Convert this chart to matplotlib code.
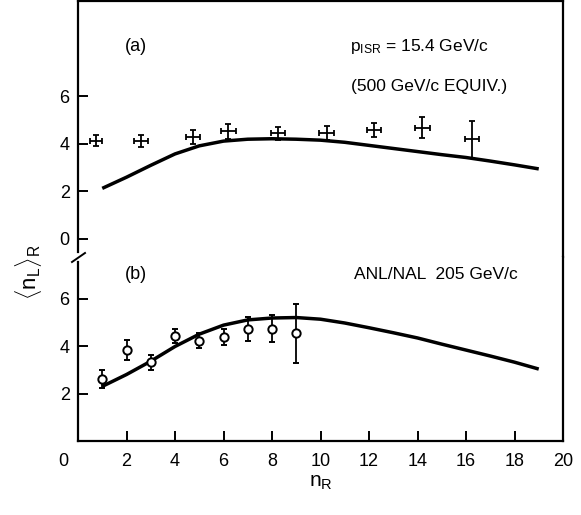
import numpy as np
import matplotlib.pyplot as plt
from matplotlib.lines import Line2D
import matplotlib.transforms as mtransforms

plt.rcParams['font.family'] = ['Liberation Sans', 'DejaVu Sans']
plt.rcParams['mathtext.fontset'] = 'custom'
plt.rcParams['mathtext.rm'] = 'Liberation Sans'

# --- data ---

# (a) ISR, 15.4 GeV/c
isr_n = [0.75, 2.6, 4.75, 6.2, 8.25, 10.25, 12.2, 14.2, 16.25]
isr_nl = [4.14, 4.13, 4.28, 4.53, 4.45, 4.45, 4.59, 4.69, 4.2]
isr_yerr = [0.24, 0.26, 0.3, 0.32, 0.27, 0.3, 0.3, 0.44, 0.78]
isr_xerr = [0.25, 0.3, 0.3, 0.3, 0.3, 0.3, 0.3, 0.3, 0.3]

# (b) ANL/NAL 205 GeV/c
nal_n = [1, 2, 3, 4, 5, 6, 7, 8, 9]
nal_nl = [2.62, 3.83, 3.31, 4.43, 4.22, 4.38, 4.72, 4.73, 4.53]
nal_yerr = [0.37, 0.42, 0.3, 0.3, 0.31, 0.33, 0.5, 0.58, 1.25]

# model curves
curve_n = [1, 2, 3, 4, 5, 6, 7, 8, 9, 10, 11, 12, 13, 14, 15, 16, 17, 18, 19]
curve_a = [2.13, 2.6, 3.1, 3.58, 3.92, 4.12, 4.2, 4.22, 4.2, 4.16, 4.07, 3.94,
           3.81, 3.68, 3.55, 3.43, 3.28, 3.12, 2.95]
curve_b = [2.3, 2.8, 3.36, 3.98, 4.5, 4.88, 5.1, 5.18, 5.2, 5.13, 4.97, 4.77,
           4.56, 4.34, 4.08, 3.83, 3.58, 3.32, 3.03]

x_ticks = [0, 2, 4, 6, 8, 10, 12, 14, 16, 18, 20]

# --- layout (pixel fractions of 581x515) ---
W, H = 581, 515
left, right = 78 / W, 563 / W
y_bot, y_mid, y_top = (H - 441) / H, (H - 257) / H, (H - 1) / H

fig = plt.figure(figsize=(W / 100, H / 100), dpi=100)
ax_a = fig.add_axes([left, y_mid, right - left, y_top - y_mid])
ax_b = fig.add_axes([left, y_bot, right - left, y_mid - y_bot])

lw_spine = 1.6
for ax in (ax_a, ax_b):
    ax.set_xlim(0, 20)
    for s in ax.spines.values():
        s.set_linewidth(lw_spine)
    ax.tick_params(direction='in', length=7, width=1.4, labelsize=13,
                   top=False, right=False)
    ax.tick_params(axis='y', pad=6)

ax_a.set_ylim(-0.76, 10.02)
ax_b.set_ylim(0, 7.75)
ax_a.spines['bottom'].set_visible(False)
ax_b.spines['top'].set_visible(False)
ax_a.spines['left'].set_bounds(-0.55, 10.02)
ax_b.spines['left'].set_bounds(0, 7.55)

ax_a.set_xticks([])
ax_a.set_yticks([0, 2, 4, 6])
ax_b.set_yticks([2, 4, 6])
ax_b.set_xticks(x_ticks)
ax_b.set_xticklabels([str(t) for t in x_ticks])
ax_b.tick_params(axis='x', pad=9)
# the "0" label sits left of the axis corner
offset = mtransforms.ScaledTranslation(-0.15, 0, fig.dpi_scale_trans)
lbl0 = ax_b.get_xticklabels()[0]
lbl0.set_transform(lbl0.get_transform() + offset)

# (a)
ax_a.plot(curve_n, curve_a, color='black', lw=2.5, solid_capstyle='butt',
          solid_joinstyle='round')
ax_a.errorbar(isr_n, isr_nl, yerr=isr_yerr, xerr=isr_xerr, fmt='none',
              ecolor='black', elinewidth=1.3, capsize=2.5, capthick=1.3)
ax_a.text(2.4, 8.1, '(a)', fontsize=13, ha='center', va='center')
ax_a.text(11.2, 8.1, r'$\mathregular{p_{ISR}}$ = 15.4 GeV/c', fontsize=12.5,
          ha='left', va='center')
ax_a.text(11.25, 6.4, '(500 GeV/c EQUIV.)', fontsize=12.5,
          ha='left', va='center')

# (b)
ax_b.plot(curve_n, curve_b, color='black', lw=2.5, solid_capstyle='butt',
          solid_joinstyle='round')
ax_b.errorbar(nal_n, nal_nl, yerr=nal_yerr, fmt='o', ms=6, mfc='white',
              mec='black', mew=1.4, ecolor='black', elinewidth=1.3,
              capsize=2.5, capthick=1.3)
ax_b.text(2.4, 7.0, '(b)', fontsize=13, ha='center', va='center')
ax_b.text(11.4, 7.0, 'ANL/NAL  205 GeV/c', fontsize=12.5,
          ha='left', va='center')

ax_b.set_xlabel(r'$\mathregular{n_R}$', fontsize=15, labelpad=2)
fig.text(28 / W, (H - 272) / H, r'$\langle\mathregular{n_L}\rangle_\mathregular{R}$',
         rotation=90, fontsize=16, ha='center', va='center')

# axis break mark on the left spine
fig.add_artist(Line2D([72 / W, 85 / W], [(H - 262) / H, (H - 253) / H],
                      color='black', lw=1.4, transform=fig.transFigure))

fig.savefig('out.png', dpi=100)
